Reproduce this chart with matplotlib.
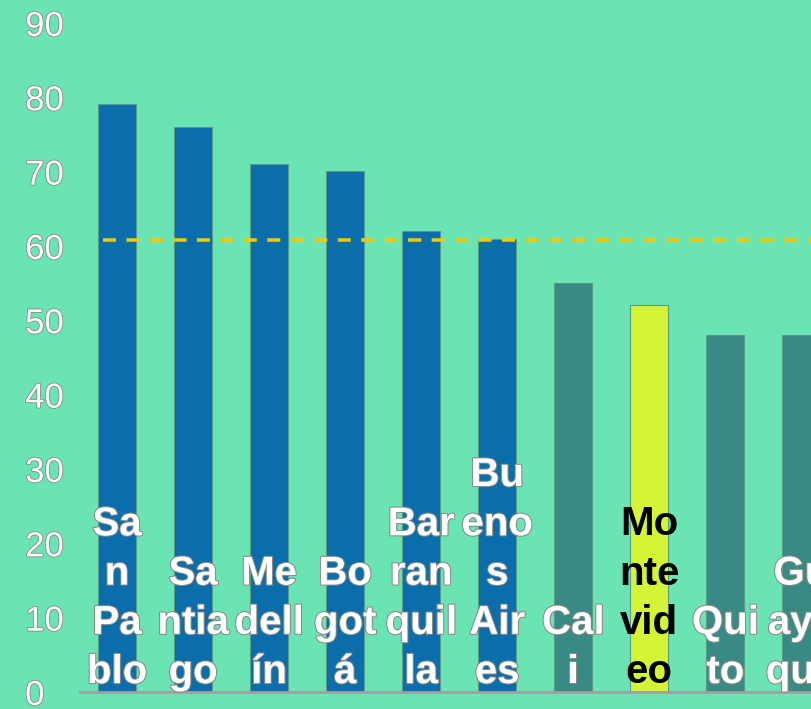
import numpy as np
import matplotlib.pyplot as plt
import matplotlib.patheffects as pe

# wrapped city labels, as shown inside the bars
cities = ["Sa\nn\nPa\nblo", "Sa\nntia\ngo", "Me\ndell\nín", "Bo\ngot\ná",
          "Bar\nran\nquil\nla", "Bu\neno\ns\nAir\nes", "Cal\ni",
          "Mo\nnte\nvid\neo", "Qui\nto", "Gu\naya\nquil"]
values = [79.1, 76.0, 71.0, 70.1, 62.0, 61.0, 55.0, 52.0, 48.0, 48.0]
groups = ["top", "top", "top", "top", "top", "top", "low", "mvd", "low", "low"]
average = 60.8

bg = '#6be4b4'
colors = {"top": '#0a6eaa', "low": '#388a84', "mvd": '#d4f535'}

fig = plt.figure(figsize=(8.12, 7.09), dpi=100, facecolor=bg)
ax = fig.add_axes([80/812, 17/709, 1 - 80/812, (692-23)/709])
ax.set_facecolor(bg)

x = np.arange(len(values))
ax.bar(x, values, 0.5, color=[colors[g] for g in groups],
       edgecolor='#5a9a88', linewidth=0.8, zorder=2)

ax.plot([-0.19, 9.5], [average, average], color='#f2c800', lw=2.6,
        dashes=(3.6, 2.9), zorder=3)

outline = [pe.withStroke(linewidth=1.5, foreground='#8a8a8a')]
for i, name in enumerate(cities):
    tc = 'black' if groups[i] == "mvd" else 'white'
    ax.text(x[i], 1.2, name, ha='center', va='baseline', fontsize=29,
            fontweight='bold', family='Liberation Sans', color=tc,
            linespacing=1.375, zorder=4,
            path_effects=None if tc == 'black' else outline)

ax.set_xlim(-0.487, 9.14)
ax.set_ylim(0, 90)
ax.set_yticks(range(0, 91, 10))
ax.set_xticks([])
for lbl in ax.get_yticklabels():
    lbl.set_fontsize(25)
    lbl.set_family('Liberation Sans')
    lbl.set_color('white')
    lbl.set_ha('left')
    lbl.set_path_effects([pe.withStroke(linewidth=1.2, foreground='#8a8a8a')])
ax.tick_params(axis='y', length=0, pad=39.5)
for s in ['top', 'right', 'left']:
    ax.spines[s].set_visible(False)
ax.spines['bottom'].set_color('#a0a0a0')
ax.spines['bottom'].set_linewidth(2)

fig.savefig('out.png', dpi=100, facecolor=bg)
